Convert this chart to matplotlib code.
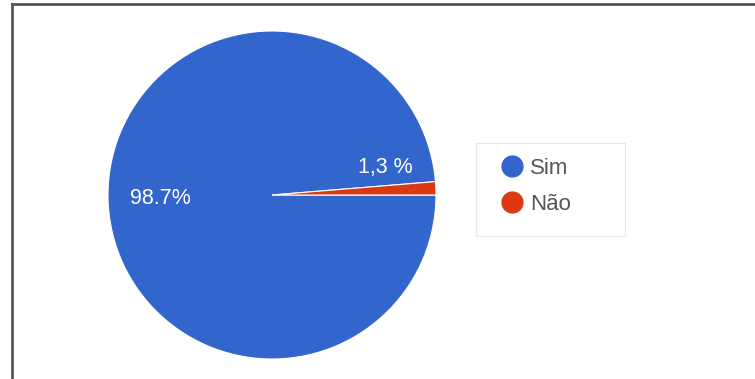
import matplotlib.pyplot as plt
from matplotlib.lines import Line2D
from matplotlib.patches import Rectangle

labels = ["Sim", "Não"]
values = [98.7, 1.3]
pct_texts = ["98.7%", "1,3 %"]
colors = ["#3366cc", "#dc3912"]

plt.rcParams['font.family'] = ['Liberation Sans', 'DejaVu Sans']

W, H = 755, 379
fig = plt.figure(figsize=(W / 100, H / 100), dpi=100)

# thin frame lines on top and left, like the screenshot
fig.add_artist(Line2D([12 / W, 12 / W], [0, 1 - 4 / H], color="#555555", lw=2))
fig.add_artist(Line2D([12 / W, 1], [1 - 4 / H, 1 - 4 / H], color="#555555", lw=2))

ax = fig.add_axes([108 / W, 20 / H, 328 / W, 328 / H])
start = values[1] / sum(values) * 360
wedges, _ = ax.pie(values, colors=colors, startangle=start, counterclock=True,
                   radius=1, wedgeprops=dict(edgecolor="white", linewidth=0.8))
ax.set_xlim(-1, 1)
ax.set_ylim(-1, 1)
ax.set_aspect("equal")
ax.axis("off")

ax.text(-0.68, -0.02, pct_texts[0], color="white", fontsize=15.5, ha="center", va="center")
ax.text(0.69, 0.165, pct_texts[1], color="white", fontsize=15.5, ha="center", va="center")

# legend box
fig.add_artist(Rectangle((476 / W, 1 - 236 / H), 149 / W, 93 / H, transform=fig.transFigure,
                         facecolor="none", edgecolor="#e6e6e6", lw=0.8))

handles = [Line2D([], [], marker="o", ls="", markersize=15, markerfacecolor=c,
                  markeredgecolor=c) for c in colors]
leg = fig.legend(handles, labels, loc="upper left", bbox_to_anchor=(501 / W, 1 - 158 / H),
                 frameon=False, fontsize=16, labelcolor="#555555", handlelength=1.0,
                 handletextpad=0.3, borderpad=0, borderaxespad=0, labelspacing=0.66)

fig.savefig("out.png", dpi=100)
